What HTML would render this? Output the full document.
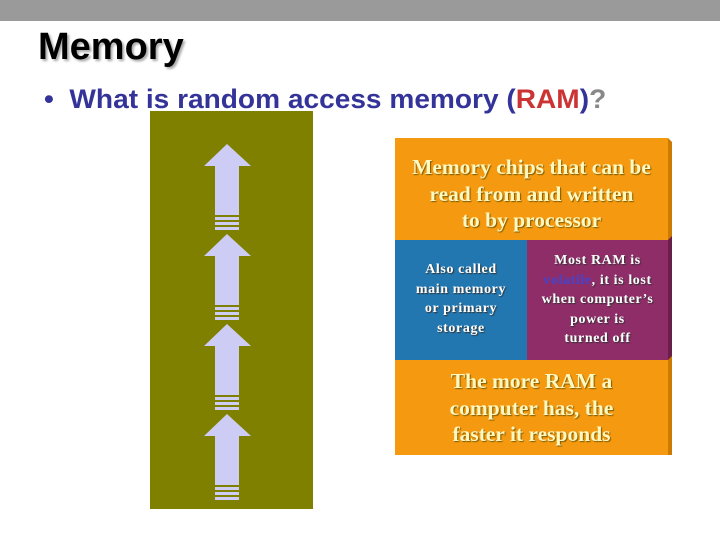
<!DOCTYPE html>
<html><head><style>
body{margin:0;width:720px;height:540px;position:relative;overflow:hidden;background:#fff;font-family:"Liberation Sans",sans-serif}
.a{position:absolute}
.s{font-family:"Liberation Serif",serif;color:#fff8c0;text-shadow:1px 1px 1px #7a5a00;text-align:center;font-weight:bold}
.w{font-family:"Liberation Serif",serif;color:#fff;text-shadow:1px 1px 1px #333;text-align:center;font-size:14px;line-height:19.5px;letter-spacing:0.6px;font-weight:bold}
</style></head><body>
<div class="a" style="left:0;top:0;width:720px;height:21px;background:#9a9a9a"></div>
<div class="a" style="left:38px;top:26px;font-size:38px;font-weight:bold;color:#000;text-shadow:2px 2px 2px #aaa">Memory</div>
<div class="a" style="left:44px;top:84px;font-size:27px;font-weight:bold;color:#333399;white-space:nowrap;transform:scaleX(1.04);transform-origin:0 0">•&nbsp; What is random access memory (<span style="color:#cc3333">RAM</span>)<span style="color:#888">?</span></div>
<div class="a" style="left:150px;top:111px;width:163px;height:398px;background:#808000"></div>
<svg class="a" style="left:0;top:0" width="720" height="540">
<g fill="#ccccf5">
<g id="ar"><polygon points="227,144 251,166 239,166 239,215 215,215 215,166 204,166"/><rect x="215" y="217" width="24" height="3"/><rect x="215" y="222" width="24" height="3"/><rect x="215" y="227" width="24" height="3"/></g>
<use href="#ar" y="90"/><use href="#ar" y="180"/><use href="#ar" y="270"/>
</g>
<polygon points="395,138 668,138 672,142 672,455 395,455" fill="#cc7a00"/>
<polygon points="668,240 672,236 672,356 668,360" fill="#6a1f4a"/>
</svg>
<div class="a" style="left:395px;top:138px;width:273px;height:102px;background:#f59a10"></div>
<div class="a" style="left:395px;top:240px;width:132px;height:120px;background:#2277b0"></div>
<div class="a" style="left:527px;top:240px;width:141px;height:120px;background:#8e2d68"></div>
<div class="a" style="left:395px;top:360px;width:273px;height:95px;background:#f59a10"></div>
<div class="a s" style="left:390px;top:154px;width:283px;font-size:21.5px;line-height:26.5px">Memory chips that can be<br>read from and written<br>to by processor</div>
<div class="a w" style="left:395px;top:260px;width:132px">Also called<br>main memory<br>or primary<br>storage</div>
<div class="a w" style="left:527px;top:251px;width:141px">Most RAM is<br><span style="color:#4444cc;text-shadow:none">volatile</span>, it is lost<br>when computer’s<br>power is<br>turned off</div>
<div class="a s" style="left:390px;top:368px;width:283px;font-size:21.5px;line-height:26.5px">The more RAM a<br>computer has, the<br>faster it responds</div>
</body></html>
